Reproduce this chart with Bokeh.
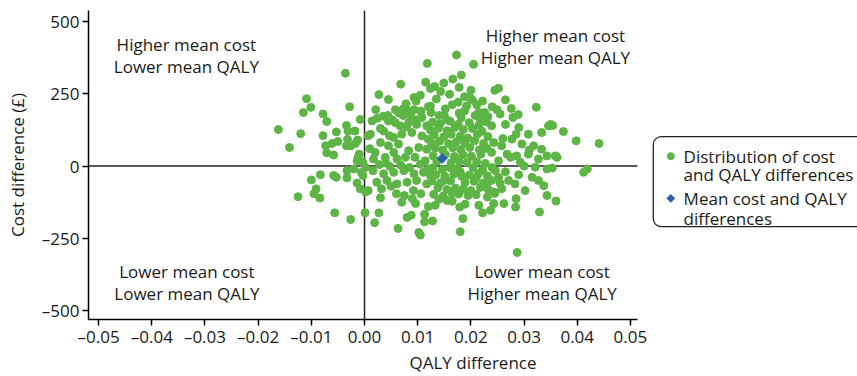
from bokeh.plotting import figure
from bokeh.models import Range1d, FixedTicker, CustomJSTickFormatter, BoxAnnotation
from bokeh.embed import file_html
from bokeh.resources import INLINE
from bokeh.core.properties import value

# ---- data ----
qaly_diff = [
    # upper-left cloud
    -0.0036, -0.0109, -0.0101, -0.0115, -0.0078, -0.0071, -0.0028, 0.0021, 0.0027, -0.0008,
    -0.0162, -0.0120, -0.0141, -0.0078, -0.0053, -0.0034, -0.0031, -0.0018, 0.0007, -0.0032,
    -0.0013, -0.0017, -0.0050, -0.0061, -0.0073, -0.0071, -0.0058, -0.0034, -0.0026, -0.0010,
    # lower-left cloud
    -0.0014, -0.0033, -0.0020, -0.0033, -0.0058, -0.0053, -0.0083, -0.0100, -0.0091, -0.0095,
    -0.0084, -0.0125, -0.0003, -0.0014, -0.0008, 0.0002, -0.0056, -0.0026, 0.0001, 0.0019,
    0.0027, -0.0012, -0.0003, 0.0002, -0.0006,
    # lower tail
    0.0063, 0.0080, 0.0088, 0.0102, 0.0105, 0.0113, 0.0113, 0.0128, 0.0180, 0.0185,
    0.0179, 0.0189, 0.0215, 0.0222, 0.0231, 0.0096, 0.0133, 0.0155, 0.0165, 0.0090,
    # lower right
    0.0287, 0.0329, 0.0360, 0.0353, 0.0362, 0.0412, 0.0419, 0.0285, 0.0284, 0.0262,
    0.0237, 0.0243,
    # upper right
    0.0252, 0.0245, 0.0265, 0.0323, 0.0249, 0.0276, 0.0255, 0.0289, 0.0279, 0.0350,
    0.0354, 0.0374, 0.0398, 0.0441, 0.0359,
    # upper centre
    0.0173, 0.0118, 0.0205, 0.0182, 0.0166, 0.0068, 0.0115, 0.0132, 0.0124, 0.0149,
    0.0178, 0.0093, 0.0097, 0.0124, 0.0176, 0.0199, 0.0203, 0.0211, 0.0192, 0.0058,
    0.0073, 0.0082, 0.0093, 0.0106, 0.0178, 0.0073, 0.0087, 0.0044, 0.0140, 0.0154,
    0.0182, 0.0218, 0.0035, 0.0052, 0.0065, 0.0108, 0.0125, 0.0152, 0.0165, 0.0188,
    0.0208, 0.0226,
    0.0045, 0.0078, 0.0105, 0.0135, 0.0160, 0.0188, 0.0222, 0.0240, 0.0058, 0.0030,
    0.0215, 0.0232, 0.0150, 0.0120, 0.0098, 0.0079, 0.0047, 0.0024, 0.0143, 0.0200,
    # core left
    0.0014, 0.0045, 0.0067, 0.0083, 0.0098, 0.0117,
    0.0011, 0.0036, 0.0055, 0.0070, 0.0089, 0.0108, 0.0120,
    0.0030, 0.0045, 0.0064, 0.0083, 0.0102, 0.0117, 0.0020, 0.0055,
    0.0017, 0.0039, 0.0061, 0.0077, 0.0095, 0.0114,
    0.0028, 0.0068, 0.0105, 0.0048,
    0.0016, 0.0036, 0.0055, 0.0074, 0.0093, 0.0111, 0.0124,
    0.0023, 0.0042, 0.0061, 0.0080, 0.0098, 0.0117,
    0.0007, 0.0032, 0.0075, 0.0092, 0.0106, 0.0060,
    # core centre
    0.0128, 0.0142, 0.0161, 0.0176, 0.0197, 0.0215, 0.0229,
    0.0124, 0.0139, 0.0155, 0.0170, 0.0186, 0.0203, 0.0221,
    0.0131, 0.0149, 0.0163, 0.0180, 0.0194, 0.0212, 0.0232,
    0.0126, 0.0141, 0.0158, 0.0173, 0.0189, 0.0207, 0.0224,
    0.0133, 0.0147, 0.0166, 0.0181, 0.0198, 0.0216, 0.0230,
    0.0129, 0.0152, 0.0169, 0.0185, 0.0201, 0.0219,
    0.0136, 0.0163, 0.0178, 0.0193, 0.0211, 0.0227,
    0.0128, 0.0146, 0.0160, 0.0175, 0.0204, 0.0222,
    0.0134, 0.0151, 0.0168, 0.0183, 0.0197, 0.0214, 0.0231,
    0.0127, 0.0143, 0.0162, 0.0189, 0.0206, 0.0223,
    0.0138, 0.0155, 0.0171, 0.0186, 0.0218, 0.0233,
    0.0130, 0.0148, 0.0177, 0.0195, 0.0210,
    0.0010, 0.0040, 0.0085, 0.0120, 0.0150, 0.0180, 0.0210, 0.0240, 0.0265, 0.0290,
    0.0300, 0.0275, 0.0310, 0.0260, 0.0285, 0.0230, 0.0255, 0.0200, 0.0165, 0.0140,
    0.0050, 0.0030, 0.0070, 0.0120, 0.0245,
    # core right
    0.0239, 0.0265, 0.0290, 0.0308, 0.0333, 0.0346, 0.0243, 0.0258, 0.0277, 0.0296,
    0.0318, 0.0333, 0.0239, 0.0268, 0.0286, 0.0308, 0.0327, 0.0343, 0.0252, 0.0293,
    0.0321, 0.0343, 0.0246, 0.0239, 0.0252, 0.0271, 0.0283, 0.0258, 0.0243, 0.0315,
    0.0327, 0.0337, 0.0302, 0.0343,
]
cost_diff = [
    # upper-left cloud
    321, 233, 203, 185, 180, 154, 205, 195, 247, 161,
    126, 112, 64, 105, 118, 140, 121, 121, 105, 92,
    90, 78, 85, 78, 70, 45, 38, 70, 70, 41,
    # lower-left cloud
    18, -16, -10, -41, -33, -39, -30, -48, -79, -96,
    -111, -106, -33, -59, -79, -90, -162, -185, -162, -196,
    -162, 30, 12, -5, -22,
    # lower tail
    -216, -178, -170, -230, -239, -167, -193, -190, -227, -182,
    -142, -132, -136, -162, -107, -130, -136, -119, -122, -113,
    # lower right
    -299, -159, -121, -7, 30, -22, -10, -113, -142, -130,
    -153, -130,
    # upper right
    269, 262, 229, 203, 195, 199, 180, 178, 168, 144,
    140, 119, 87, 78, 35,
    # upper centre
    384, 355, 352, 315, 301, 283, 290, 275, 268, 287,
    272, 237, 225, 207, 221, 235, 228, 212, 208, 195,
    198, 190, 195, 190, 183, 175, 175, 175, 175, 160,
    167, 160, 172, 160, 183, 168, 185, 198, 212, 190,
    175, 185,
    230, 215, 245, 232, 248, 240, 225, 205, 150, 130,
    185, 170, 175, 205, 160, 135, 105, 165, 258, 262,
    # core left
    156, 156, 139, 150, 144, 139,
    110, 121, 99, 110, 116, 104, 93,
    81, 70, 76, 53, 64, 58, 47, 47,
    24, 30, 24, 30, 30, 18,
    5, 3, 6, -2,
    -16, -27, -22, -16, -27, -22, -33,
    -56, -50, -62, -56, -50, -62,
    -85, -79, -102, -85, -96, -96,
    # core centre
    152, 146, 155, 144, 150, 141, 153,
    124, 131, 122, 133, 126, 130, 120,
    108, 101, 110, 103, 97, 109, 102,
    79, 86, 77, 84, 80, 87, 78,
    62, 55, 63, 57, 64, 56, 61,
    35, 40, 33, 39, 34, 41,
    16, 11, 17, 12, 15, 9,
    -7, -12, -5, -10, -6, -13,
    -30, -35, -28, -36, -31, -27, -34,
    -52, -58, -51, -57, -53, -59,
    -75, -81, -76, -80, -74, -82,
    -98, -104, -97, -102, -99,
    60, 10, -5, -10, -50, -20, -40, -5, -20, -30,
    0, 30, 55, 95, 110, -60, -60, -85, -95, -115,
    -70, -110, -125, -140, -95,
    # core right
    139, 144, 133, 110, 116, 139, 81, 70, 93, 76,
    70, 58, 47, 41, 35, 41, 24, 35, 18, 13,
    -4, -10, -16, -50, -39, -50, -62, -79, -90, -39,
    -50, -68, -85, -102,
]
mean_qaly = [0.0146]
mean_cost = [26]

x_ticks = [-0.05, -0.04, -0.03, -0.02, -0.01, 0.0, 0.01, 0.02, 0.03, 0.04, 0.05]
y_ticks = [-500, -250, 0, 250, 500]

quadrant_top = ["Higher mean cost", "Higher mean cost", "Lower mean cost", "Lower mean cost"]
quadrant_bottom = ["Lower mean QALY", "Higher mean QALY", "Lower mean QALY", "Higher mean QALY"]
legend_lines = ["Distribution of cost", "and QALY differences", "Mean cost and QALY", "differences"]

GREEN = "#5DB546"
BLUE = "#2F5FA6"
INK = "#1a1a1a"
FONT = "Open Sans"
FS = "17px"

X0, X1 = -0.0519, 0.0513      # axis extent
Y0, Y1 = -531, 538
XR = 0.0927                   # frame continues to the right to hold the key

p = figure(width=857, height=376, output_backend="svg", toolbar_location=None,
           title=None, x_range=Range1d(X0, XR), y_range=Range1d(Y0, Y1),
           min_border_left=88, min_border_right=0, min_border_top=10, min_border_bottom=10)
p.outline_line_color = None
p.xgrid.visible = False
p.ygrid.visible = False

for ax in (p.xaxis[0], p.yaxis[0]):
    ax.axis_line_color = "black"
    ax.axis_line_width = 1.5
    ax.major_tick_line_color = "black"
    ax.major_tick_line_width = 1.5
    ax.major_tick_in = 0
    ax.major_tick_out = 6
    ax.minor_tick_line_color = None
    ax.major_label_text_font = FONT
    ax.major_label_text_font_size = FS
    ax.major_label_text_color = INK
    ax.axis_label_text_font = FONT
    ax.axis_label_text_font_size = FS
    ax.axis_label_text_font_style = "normal"
    ax.axis_label_text_color = INK

p.xaxis.bounds = (X0, X1)
p.xaxis.ticker = FixedTicker(ticks=x_ticks)
p.yaxis.ticker = FixedTicker(ticks=y_ticks)
p.xaxis.formatter = CustomJSTickFormatter(code="return tick.toFixed(2).replace('-', '\u2013');")
p.yaxis.formatter = CustomJSTickFormatter(code="return tick.toFixed(0).replace('-', '\u2013');")
p.xaxis.axis_label = "QALY difference"
p.yaxis.axis_label = "Cost difference (£)"
p.xaxis.major_label_standoff = -1
p.yaxis.major_label_standoff = 3
p.xaxis.axis_label_standoff = 0
p.yaxis.axis_label_standoff = 10

# zero reference lines (under the points)
p.segment(x0=[X0, 0], y0=[0, Y0], x1=[X1, 0], y1=[0, Y1], line_color="#222222", line_width=1.5)

p.scatter(qaly_diff, cost_diff, size=8, color=GREEN, line_color=GREEN, marker="circle")
p.scatter(mean_qaly, mean_cost, size=7, marker="square", angle=0.7854, color=BLUE, line_color=BLUE)

qx = [-0.0335, 0.0359, -0.0334, 0.0334]
p.text(x=qx, y=[421, 452, -366, -366], text=quadrant_top, text_font=value(FONT),
       text_font_size=FS, text_align="center", text_baseline="middle", text_color=INK)
p.text(x=qx, y=[345, 376, -442, -442], text=quadrant_bottom, text_font=value(FONT),
       text_font_size=FS, text_align="center", text_baseline="middle", text_color=INK)

# ---- key, to the right of the axes ----
p.add_layout(BoxAnnotation(left=0.0543, right=0.11, top=102, bottom=-210, fill_color="white",
                           fill_alpha=1, line_color="#222222", line_alpha=1, line_width=1.3,
                           border_radius=8, level="underlay"))
p.scatter([0.0576], [34], size=7, color=GREEN, marker="circle")
p.scatter([0.0576], [-112], size=5.5, marker="square", angle=0.7854, color=BLUE)
p.text(x=[0.0600] * 4, y=[34, -29, -112, -182], text=legend_lines,
       text_font=value(FONT), text_font_size=FS, text_align="left", text_baseline="middle",
       text_color=INK)

open("out.html", "w").write(file_html(p, INLINE))
